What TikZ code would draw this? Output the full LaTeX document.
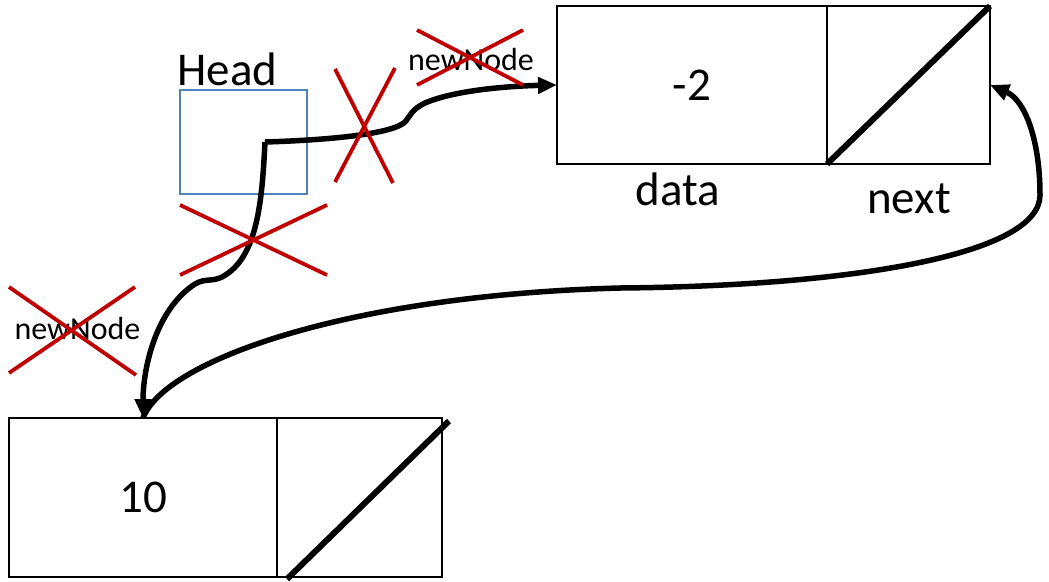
\documentclass[tikz,border=0pt]{standalone}
\usepackage{fontspec}
\setmainfont{Carlito}
\usetikzlibrary{arrows.meta}
\definecolor{xred}{RGB}{192,0,0}
\definecolor{headblue}{RGB}{79,129,189}
\begin{document}
\begin{tikzpicture}[x=1pt,y=-1pt,
  field/.style={draw=black, line width=2pt, inner sep=0pt, outer sep=0pt},
  big/.style={font=\fontsize{47}{56}\selectfont},
  small/.style={font=\fontsize{32}{38}\selectfont},
  lbl/.style={anchor=base, inner sep=0pt},
  arr/.style={line width=5.5pt, -{Triangle[length=19pt,width=16pt]}},
  nil/.style={line width=6pt},
  cross/.style={draw=xred, line width=3.8pt}]
\path[use as bounding box] (0,0) rectangle (1049,581);

% top node (-2)
\node[field, big, minimum width=270pt, minimum height=158pt] (adata) at (692,85) {-2};
\node[field, minimum width=163pt, minimum height=158pt] (anext) at (908.5,85) {};
\draw[nil] (anext.south west) -- (anext.north east);
\node[lbl, big] (datalbl) at (678,205) {data};
\node[lbl, big] (nextlbl) at (909,213) {next};

% bottom node (10)
\node[field, big, minimum width=268pt, minimum height=159pt] (bdata) at (143,497.5) {10};
\node[field, minimum width=165pt, minimum height=159pt] (bnext) at (359.5,497.5) {};
\coordinate (bnilA) at (287,579);
\coordinate (bnilB) at (449,421);
\draw[nil] (bnilA) -- (bnilB);

% Head
\node[draw=headblue, line width=1.6pt, minimum width=127pt, minimum height=104pt, inner sep=0pt] (head) at (243.5,142) {};
\node[lbl, big] (headlbl) at (227.5,85) {Head};
\coordinate (hp) at (265,142);

% newNode labels
\node[lbl, small] (nn1) at (471,70) {newNode};
\node[lbl, small] (nn2) at (77.5,339) {newNode};

% arrows
\draw[arr] (hp) .. controls (330,140) and (392,134) .. (405,122)
  .. controls (411,115) and (411,110) .. (425,103)
  .. controls (455,90) and (510,86) .. (adata.west);
\draw[arr] (hp) .. controls (262,200) and (258,258) .. (222,277)
  .. controls (212,282) and (205,278) .. (195,284)
  .. controls (155,310) and (143,370) .. (bdata.north);
\draw[arr] (bdata.north) .. controls (165,360) and (350,295) .. (620,288)
  .. controls (850,286) and (1040,255) .. (1040,195)
  .. controls (1040,140) and (1025,100) .. (anext.east);

% red crosses
\draw[cross] (335,69) -- (393,183);
\draw[cross] (395,68) -- (335,182);
\draw[cross] (417,30) -- (523,85);
\draw[cross] (523,30) -- (417,85);
\draw[cross] (180,205) -- (327,275);
\draw[cross] (180,275) -- (327,205);
\draw[cross] (9,287) -- (136,375);
\draw[cross] (9,373) -- (135,287);
\end{tikzpicture}
\end{document}
